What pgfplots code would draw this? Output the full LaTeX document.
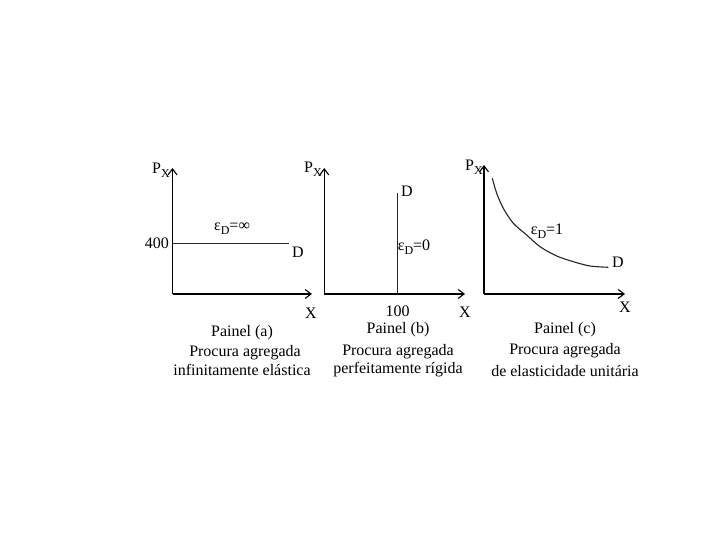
\documentclass[border=0pt]{standalone}
\usepackage{fontspec}
\setmainfont{Liberation Serif}
\usepackage{pgfplots}
\pgfplotsset{compat=1.18}
\usetikzlibrary{arrows.meta}

\newcommand{\lbl}{\fontsize{16}{18}\selectfont}
\newcommand{\sub}[1]{\raisebox{-0.5ex}{\fontsize{12}{12}\selectfont #1}}

\pgfplotsset{
  panel/.style={
    anchor=south west, scale only axis, axis lines=left,
    axis line style={line width=1.1pt, -{Straight Barb[length=6pt,width=9pt]}},
    major tick length=0pt, xtick=\empty, ytick=\empty,
    ticklabel style={font=\lbl},
    /pgf/number format/assume math mode=true,
    clip=false,
  },
}

\begin{document}
\begin{tikzpicture}
\path (0pt,0pt) rectangle (720pt,540pt);

% Painel (a)
\begin{axis}[panel, at={(172.5pt,246pt)}, width=139.5pt, height=126pt,
  xmin=0, xmax=120, ymin=0, ymax=1000, ytick={400}]
\addplot[line width=1.1pt, black!85] coordinates {(0,400) (100,400)};
\end{axis}

% Painel (b)
\begin{axis}[panel, at={(324.3pt,246pt)}, width=140.7pt, height=126pt,
  xmin=0, xmax=191.7, ymin=0, ymax=1000, xtick={100},
  xticklabel style={yshift=-8pt}]
\addplot[line width=1.1pt, black!85] coordinates {(100,0) (100,804)};
\end{axis}

% Painel (c)
\begin{axis}[panel, at={(484pt,246pt)}, width=141pt, height=129pt,
  xmin=0, xmax=141, ymin=0, ymax=129]
\addplot[line width=1.1pt, black!85, smooth] coordinates {
  (8.3,115.7) (12.7,100.7) (19.3,85.7) (29.3,70.7) (42.7,59)
  (56,47.3) (72.7,38) (89.3,32.3) (106,28) (124.3,26.7)};
\end{axis}

\begin{scope}[x=1pt, y=1pt, every node/.style={font=\lbl, inner sep=0pt}]
% labels (a)
\node at (161,370) {P\sub{X}};
\node at (232,311) {ε\sub{D}=∞};
\node at (298,288) {D};
\node at (311,227) {X};
\node at (242,207) {Painel (a)};
\node at (245,187) {Procura agregada};
\node at (242,170) {infinitamente elástica};
% labels (b)
\node at (313,371) {P\sub{X}};
\node at (407,349) {D};
\node at (414,293) {ε\sub{D}=0};
\node at (465,228) {X};
\node at (398,210) {Painel (b)};
\node at (398,188) {Procura agregada};
\node at (398,170) {perfeitamente rígida};
% labels (c)
\node at (474,373) {P\sub{X}};
\node at (547,309) {ε\sub{D}=1};
\node at (618,278) {D};
\node at (625,233) {X};
\node at (565,210) {Painel (c)};
\node at (565,189) {Procura agregada};
\node at (565,169) {de elasticidade unitária};
\end{scope}
\end{tikzpicture}
\end{document}
